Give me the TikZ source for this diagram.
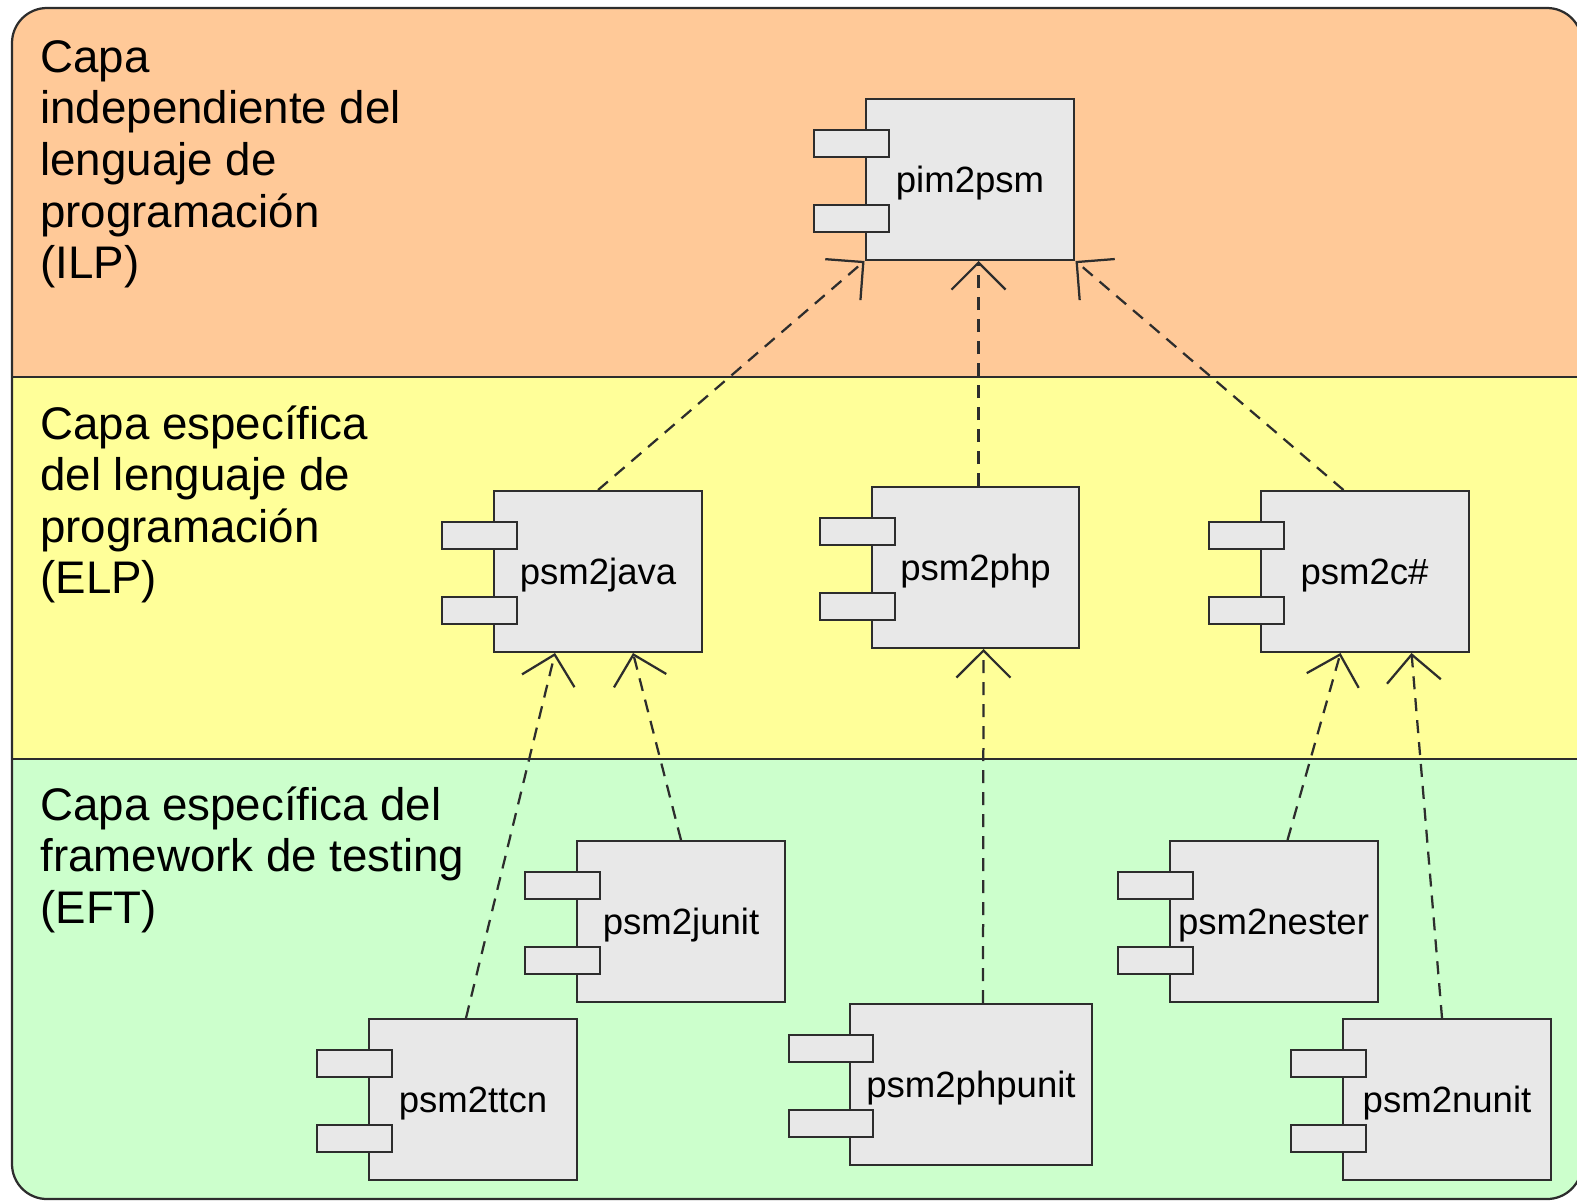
\documentclass[tikz,border=0pt]{standalone}
\usepackage{fontspec}
\setmainfont{Liberation Sans}
\usetikzlibrary{arrows.meta,calc}
\definecolor{ilpc}{RGB}{255,201,152}
\definecolor{elpc}{RGB}{255,255,153}
\definecolor{eftc}{RGB}{204,255,204}
\definecolor{boxc}{RGB}{232,232,232}
\definecolor{linec}{RGB}{45,45,45}
\tikzset{
	comp/.style={draw=linec,fill=boxc,line width=0.04cm,minimum height=3.22cm,inner sep=0pt,text depth=0pt,font=\fontsize{20.8}{24}\selectfont},
	port/.style={draw=linec,fill=boxc,line width=0.04cm},
	layer/.style={anchor=north west,inner sep=0pt,align=left,font=\fontsize{26}{29.4}\selectfont},
	dep/.style={draw=linec,line width=0.045cm,dash pattern=on 0.26cm off 0.18cm,-{Straight Barb[length=0.54cm,width=1.08cm]}}
}
% #1 nombre, #2 centro, #3 texto, #4 ancho, #5 saliente de los puertos
\newcommand{\compbox}[5]{
	\node[comp,minimum width=#4] (#1) at (#2) {#3};
	\draw[port] ($(#1.north west)+(-#5,32)$) rectangle ++(#5+24,27);
	\draw[port] ($(#1.north west)+(-#5,107)$) rectangle ++(#5+24,27);
}
\begin{document}
\begin{tikzpicture}[x=0.02cm,y=-0.02cm]
	\useasboundingbox (0,0) rectangle (1577,1201);
	\begin{scope}
		\clip[rounded corners=0.7cm] (12,8) rectangle (1582,1199);
		\fill[ilpc] (12,8) rectangle (1582,377);
		\fill[elpc] (12,377) rectangle (1582,759);
		\fill[eftc] (12,759) rectangle (1582,1199);
		\draw[linec,line width=0.04cm] (12,377) -- (1582,377);
		\draw[linec,line width=0.04cm] (12,759) -- (1582,759);
	\end{scope}
	\draw[linec,line width=0.045cm,rounded corners=0.7cm] (12,8) rectangle (1582,1199);

	\node[layer] (ilp) at (40,40) {Capa\\independiente del\\lenguaje de\\programación\\(ILP)};
	\node[layer] (elp) at (40,405) {Capa específica\\del lenguaje de\\programación\\(ELP)};
	\node[layer] (eft) at (40,786) {Capa específica del\\framework de testing\\(EFT)};

	\compbox{pim}{970,179.5}{pim2psm}{4.18cm}{51}
	\compbox{java}{598,571.5}{psm2java}{4.16cm}{51}
	\compbox{php}{975.5,567.5}{psm2php}{4.16cm}{51}
	\compbox{csharp}{1364.5,571.5}{psm2c\#}{4.16cm}{51}
	\compbox{junit}{681,921.5}{psm2junit}{4.16cm}{51}
	\compbox{ttcn}{473,1099.5}{psm2ttcn}{4.16cm}{51}
	\compbox{phpunit}{971,1084.5}{psm2phpunit}{4.84cm}{60}
	\compbox{nester}{1273.5,921.5}{psm2nester}{4.16cm}{51}
	\compbox{nunit}{1447,1099.5}{psm2nunit}{4.16cm}{51}

	\draw[dep] (java.north) -- (pim.south west);
	\draw[dep] ($(php.north)+(3,0)$) -- ($(php.north |- pim.south)+(3,0)$);
	\draw[dep] ($(csharp.north)+(-21,0)$) -- (pim.south east);
	\draw[dep] ($(ttcn.north)+(-7,0)$) -- ($(java.south west)+(62,0)$);
	\draw[dep] (junit.north) -- ($(java.south west)+(140,0)$);
	\draw[dep] ($(phpunit.north)+(12,0)$) -- ($(php.south)+(8,0)$);
	\draw[dep] ($(nester.north)+(14,0)$) -- ($(csharp.south west)+(81,0)$);
	\draw[dep] ($(nunit.north)+(-5,0)$) -- ($(csharp.south west)+(152,0)$);
\end{tikzpicture}
\end{document}
